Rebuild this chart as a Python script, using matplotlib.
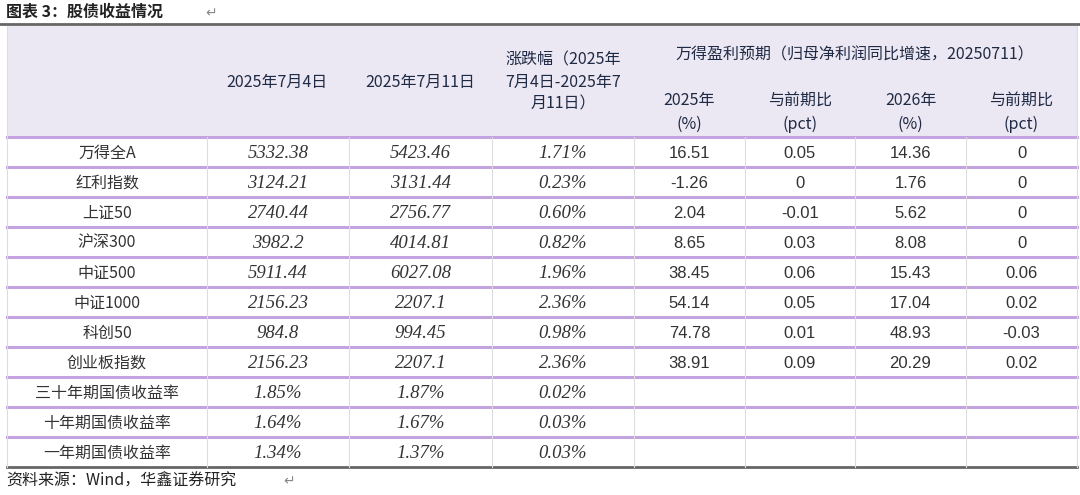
import matplotlib
matplotlib.use("Agg")
import matplotlib.pyplot as plt

names = ["万得全A", "红利指数", "上证50", "沪深300", "中证500", "中证1000", "科创50", "创业板指数",
         "三十年期国债收益率", "十年期国债收益率", "一年期国债收益率"]
val_0704 = ["5332.38", "3124.21", "2740.44", "3982.2", "5911.44", "2156.23", "984.8", "2156.23", "1.85%", "1.64%", "1.34%"]
val_0711 = ["5423.46", "3131.44", "2756.77", "4014.81", "6027.08", "2207.1", "994.45", "2207.1", "1.87%", "1.67%", "1.37%"]
change = ["1.71%", "0.23%", "0.60%", "0.82%", "1.96%", "2.36%", "0.98%", "2.36%", "0.02%", "0.03%", "0.03%"]
eps2025 = ["16.51", "-1.26", "2.04", "8.65", "38.45", "54.14", "74.78", "38.91", "", "", ""]
chg2025 = ["0.05", "0", "-0.01", "0.03", "0.06", "0.05", "0.01", "0.09", "", "", ""]
eps2026 = ["14.36", "1.76", "5.62", "8.08", "15.43", "17.04", "48.93", "20.29", "", "", ""]
chg2026 = ["0", "0", "0", "0", "0.06", "0.02", "-0.03", "0.02", "", "", ""]

CJK = "Noto Sans CJK SC"
NUM = "Liberation Serif"
fig = plt.figure(figsize=(10.8, 4.95), dpi=100)
ax = fig.add_axes([0, 0, 1, 1])
ax.set_xlim(0, 1080); ax.set_ylim(495, 0); ax.axis("off")

cols = [7, 207, 349, 492, 634, 745, 855, 966, 1077]
top, hdr_bot, rh = 26, 137, 30
purple = "#c3a3e0"
ax.add_patch(plt.Rectangle((cols[0], top), cols[-1]-cols[0], hdr_bot-top, color="#ece8f3", lw=0))
ax.text(6, 12, "图表 3：股债收益情况", fontfamily=CJK, fontweight="bold", fontsize=11.5, va="center", color="#222")
ax.text(205, 13, "↵", fontfamily="DejaVu Sans", fontsize=10, va="center", color="#888")
ax.plot([0, 1080], [24, 24], color="#666", lw=2)
nrows = len(names)
bottom = hdr_bot + rh*nrows
for i in range(nrows+1):
    y = hdr_bot + rh*i
    ax.plot([cols[0], cols[-1]], [y, y], color=purple if i < nrows else "#666", lw=2.2 if i < nrows else 2)
for c in cols:
    ax.plot([c, c], [top if c in (cols[0], cols[-1]) else hdr_bot, bottom], color="#dddddd", lw=0.8)

hc = "#1f2a44"
fs = 11.5
ax.text(277, 82, "2025年7月4日", fontfamily=CJK, fontsize=fs, ha="center", va="center", color=hc)
ax.text(420, 82, "2025年7月11日", fontfamily=CJK, fontsize=fs, ha="center", va="center", color=hc)
ax.text(563, 82, "涨跌幅（2025年\n7月4日-2025年7\n月11日）", fontfamily=CJK, fontsize=fs, ha="center", va="center", color=hc, linespacing=1.35)
ax.text(855, 55, "万得盈利预期（归母净利润同比增速，20250711）", fontfamily=CJK, fontsize=fs, ha="center", va="center", color=hc)
for j, (a, b) in enumerate([("2025年", "(%)"), ("与前期比", "(pct)"), ("2026年", "(%)"), ("与前期比", "(pct)")]):
    cx = (cols[4+j]+cols[5+j])/2
    ax.text(cx, 100, a, fontfamily=CJK, fontsize=fs, ha="center", va="center", color=hc)
    ax.text(cx, 124, b, fontfamily=CJK, fontsize=fs, ha="center", va="center", color=hc)

tc = "#333"
for i in range(nrows):
    y = hdr_bot + rh*i + rh/2 + 1
    ax.text((cols[0]+cols[1])/2, y, names[i], fontfamily=CJK, fontsize=11.5, ha="center", va="center", color=tc)
    for k, arr in enumerate([val_0704, val_0711, change]):
        ax.text((cols[1+k]+cols[2+k])/2, y, arr[i], fontfamily=NUM, style="italic", fontsize=13.5, ha="center", va="center", color=tc)
    for k, arr in enumerate([eps2025, chg2025, eps2026, chg2026]):
        ax.text((cols[4+k]+cols[5+k])/2, y, arr[i], fontfamily="Liberation Sans", fontsize=12, ha="center", va="center", color=tc)

ax.text(6, 481, "资料来源：Wind，华鑫证券研究", fontfamily=CJK, fontsize=11.5, va="center", color="#222")
ax.text(283, 481, "↵", fontfamily="DejaVu Sans", fontsize=10, va="center", color="#888")
fig.savefig("out.png", dpi=100)
